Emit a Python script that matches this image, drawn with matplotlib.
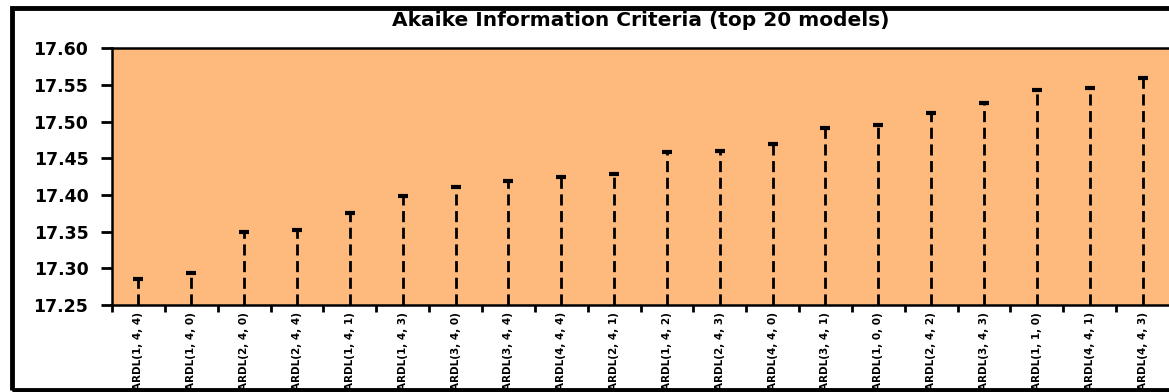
import matplotlib
matplotlib.use("Agg")
import matplotlib.pyplot as plt
from matplotlib.patches import Rectangle
from matplotlib.ticker import FixedLocator, FormatStrFormatter

# Top 20 ARDL specifications ranked by Akaike information criterion
models = [
    "ARDL(1, 4, 4)", "ARDL(1, 4, 0)", "ARDL(2, 4, 0)", "ARDL(2, 4, 4)",
    "ARDL(1, 4, 1)", "ARDL(1, 4, 3)", "ARDL(3, 4, 0)", "ARDL(3, 4, 4)",
    "ARDL(4, 4, 4)", "ARDL(2, 4, 1)", "ARDL(1, 4, 2)", "ARDL(2, 4, 3)",
    "ARDL(4, 4, 0)", "ARDL(3, 4, 1)", "ARDL(1, 0, 0)", "ARDL(2, 4, 2)",
    "ARDL(3, 4, 3)", "ARDL(1, 1, 0)", "ARDL(4, 4, 1)", "ARDL(4, 4, 3)",
]
aic = [
    17.285, 17.293, 17.349, 17.352, 17.376, 17.398, 17.411, 17.419,
    17.425, 17.429, 17.459, 17.460, 17.470, 17.492, 17.495, 17.512,
    17.526, 17.543, 17.546, 17.560,
]
y_ticks = [17.25, 17.30, 17.35, 17.40, 17.45, 17.50, 17.55, 17.60]
title = "Akaike Information Criteria (top 20 models)"

W, H = 1169, 392
fig = plt.figure(figsize=(W / 100, H / 100), dpi=100)
fig.patch.set_facecolor("white")

left, right, top, bottom = 112, 1169, 48.3, 305
ax = fig.add_axes([left / W, 1 - bottom / H, (right - left) / W, (bottom - top) / H])
ax.set_facecolor("#FEBA7C")

xs = list(range(len(models)))
base = y_ticks[0]
ax.vlines(xs, base, aic, colors="black", linewidth=2.0,
          linestyles=(0, (4, 2.0)), zorder=3)
ax.plot(xs, aic, linestyle="none", marker="_", markersize=7,
        markeredgewidth=3, color="black", zorder=4)

ax.set_xlim(-0.5, len(models) - 0.5)
ax.set_ylim(y_ticks[0], y_ticks[-1])

ax.yaxis.set_major_locator(FixedLocator(y_ticks))
ax.yaxis.set_major_formatter(FormatStrFormatter("%.2f"))
ax.tick_params(axis="y", direction="out", length=8, width=2, pad=9,
               labelsize=12.5, colors="black")
for lab in ax.get_yticklabels():
    lab.set_fontweight("bold")
    lab.set_family("DejaVu Sans")

ax.set_xticks(xs)
ax.set_xticklabels(models, rotation=90, fontsize=7.5, fontweight="bold",
                   family="DejaVu Sans", va="top", ha="center")
ax.tick_params(axis="x", which="major", length=0, pad=5)
ax.set_xticks([x + 0.5 for x in xs[:-1]] + [-0.5], minor=True)
ax.tick_params(axis="x", which="minor", direction="out", length=5, width=2)

for side in ("left", "bottom", "top"):
    ax.spines[side].set_linewidth(1.8)
    ax.spines[side].set_color("black")
ax.spines["right"].set_visible(False)

fig.text((left + right) / 2 / W, 1 - 21 / H, title, ha="center", va="center",
         fontsize=14.5, fontweight="bold", family="DejaVu Sans")

# outer frame around the whole chart
fig.patches.append(Rectangle((12 / W, 2 / H), 1.2, (H - 7.5) / H - 2 / H,
                             transform=fig.transFigure, fill=False,
                             edgecolor="black", linewidth=3.5, zorder=10))

fig.savefig("out.png", dpi=100)
